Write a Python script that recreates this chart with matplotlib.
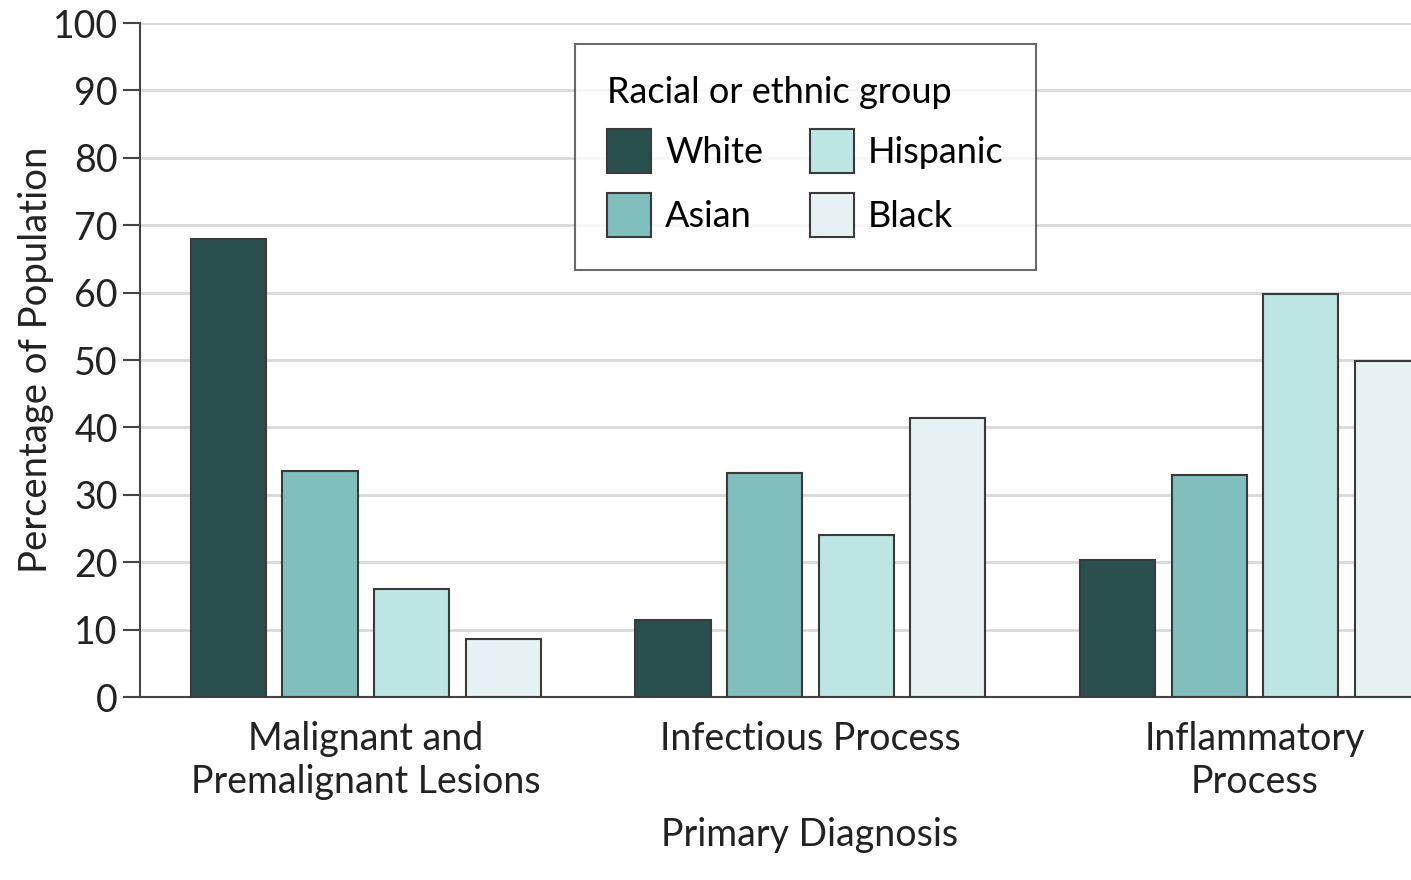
import numpy as np
import matplotlib.pyplot as plt
from matplotlib.patches import Patch

categories = ["Malignant and\nPremalignant Lesions", "Infectious Process", "Inflammatory\nProcess"]
groups = ["White", "Asian", "Hispanic", "Black"]
white = [68.0, 11.4, 20.3]
asian = [33.5, 33.2, 32.9]
hispanic = [16.0, 24.0, 59.8]
black = [8.6, 41.4, 49.9]

colors = ["#2a4f4f", "#80bfbe", "#bde5e3", "#e6f1f3"]
edge = "#3a3a3a"

plt.rcParams['font.family'] = ['Lato', 'DejaVu Sans']

fig = plt.figure(figsize=(14.11, 8.8), dpi=100)
ax = fig.add_axes([140/1411, 1-697/880, 1-140/1411, (697-23)/880])

x = np.arange(len(categories))
pitch = 0.206
width = 0.169
series = [white, asian, hispanic, black]
for i, vals in enumerate(series):
    ax.bar(x + (i - 1.5) * pitch, vals, width, color=colors[i],
           edgecolor=edge, linewidth=1.5, zorder=3)

ax.set_xlim(-0.508, 2.351)
ax.set_ylim(0, 100)
ax.set_yticks(np.arange(0, 101, 10))
ax.yaxis.grid(True, color="#d9d9d9", linewidth=2, zorder=0)
ax.set_axisbelow(True)

for s in ["top", "right"]:
    ax.spines[s].set_visible(False)
for s in ["left", "bottom"]:
    ax.spines[s].set_color("#444444")
    ax.spines[s].set_linewidth(1.5)

ax.tick_params(axis="y", length=12, width=1.5, color="#444444",
               labelsize=27, labelcolor="#222222", pad=4)
ax.tick_params(axis="x", length=0, labelsize=27, labelcolor="#222222", pad=17)
ax.set_xticks(x)
ax.set_xticklabels(categories, linespacing=1.25)

ax.set_ylabel("Percentage of Population", fontsize=27.5, color="#222222", labelpad=-1)
ax.set_xlabel("Primary Diagnosis", fontsize=27, color="#222222", labelpad=12)
ax.xaxis.set_label_coords((810 - 140) / 1271, -0.178)

handles = [Patch(facecolor=colors[i], edgecolor=edge, linewidth=1.5, label=groups[i])
           for i in range(4)]
leg = ax.legend(handles=handles, ncol=2, title="Racial or ethnic group",
                loc="upper left", bbox_to_anchor=(0.342, 0.969), borderaxespad=0,
                fontsize=26, title_fontsize=26, frameon=True, fancybox=False,
                handlelength=1.22, handleheight=1.5, columnspacing=1.3,
                borderpad=0.9, handletextpad=0.38, labelspacing=0.55)
leg._legend_box.align = "left"
leg.get_frame().set_edgecolor("#444444")
leg.get_frame().set_linewidth(1.5)
leg.set_zorder(5)

fig.savefig("out.png", dpi=100)
